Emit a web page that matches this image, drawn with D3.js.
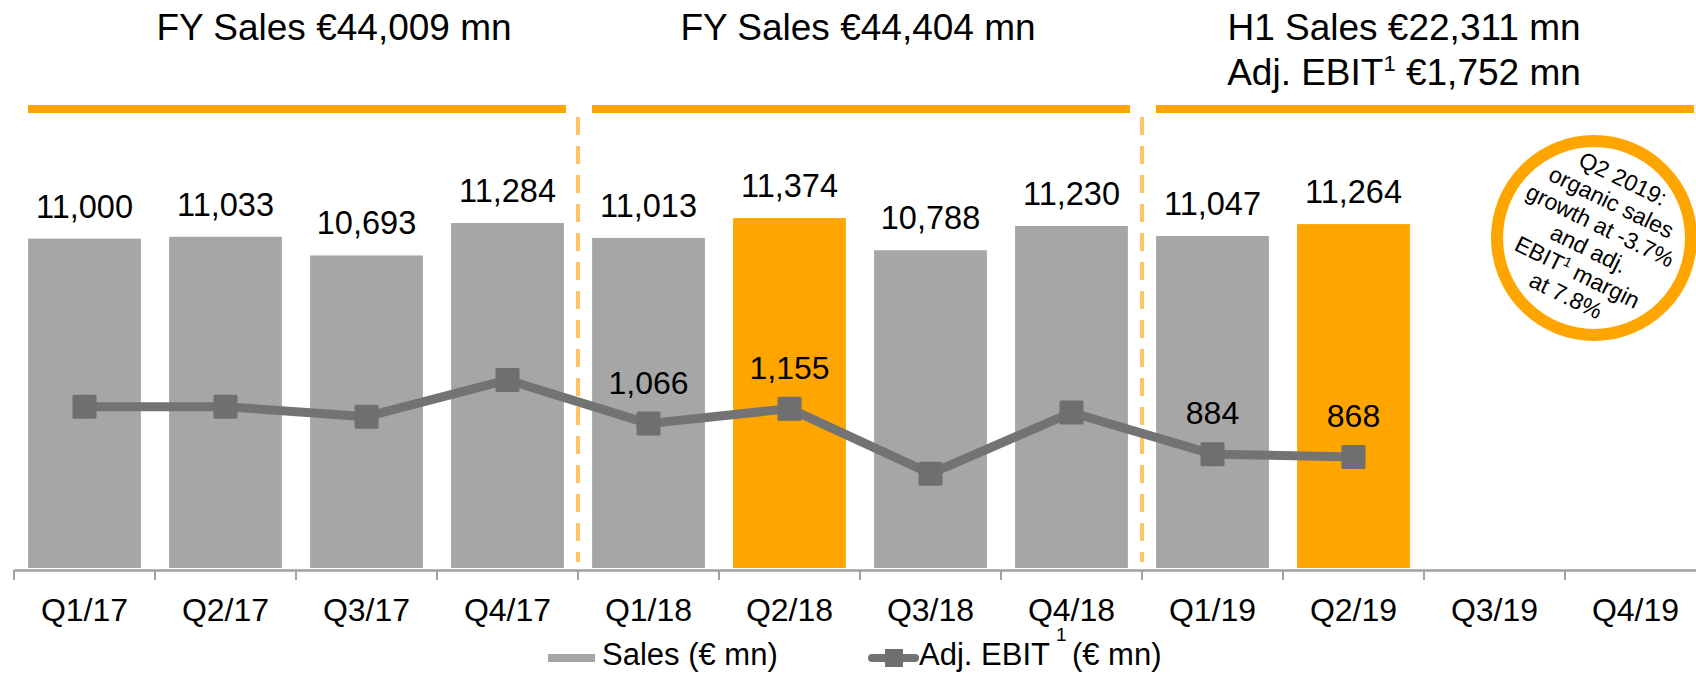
<!DOCTYPE html>
<html>
<head>
<meta charset="utf-8">
<script src="https://cdn.jsdelivr.net/npm/d3@7"></script>
<style>
  body { margin: 0; background: #fff; }
  text { font-family: "Liberation Sans", Arial, sans-serif; fill: #000; }
</style>
</head>
<body>
<div id="wrapper"></div>
<script>
// data
const quarters = ["Q1/17", "Q2/17", "Q3/17", "Q4/17", "Q1/18", "Q2/18", "Q3/18", "Q4/18", "Q1/19", "Q2/19", "Q3/19", "Q4/19"]
const sales = [11000, 11033, 10693, 11284, 11013, 11374, 10788, 11230, 11047, 11264, null, null]
const adjEbit = [1167, 1167, 1107, 1326, 1066, 1155, 768, 1132, 884, 868, null, null]
const ebitLabelled = ["Q1/18", "Q2/18", "Q1/19", "Q2/19"]
const highlighted = ["Q2/18", "Q2/19"]
const periodSpans = [["Q1/17", "Q4/17"], ["Q1/18", "Q4/18"], ["Q1/19", "Q4/19"]]
const periodTitles = [["FY Sales €44,009 mn"], ["FY Sales €44,404 mn"], ["H1 Sales €22,311 mn", "Adj. EBIT¹ €1,752 mn"]]
const calloutLines = ["Q2 2019:", "organic sales", "growth at -3.7%", "and adj.", "EBIT¹ margin", "at 7.8%"]
const legendSales = "Sales (€ mn)"
const legendEbit = ["Adj. EBIT", "1", "(€ mn)"]

const dataset = quarters.map((q, i) => ({ q, sales: sales[i], ebit: adjEbit[i] }))

const dimensions = { width: 1696, height: 679 }
const baseY = 568
const orange = "#FFA500"
const grey = "#A6A6A6"
const lineGrey = "#737373"
const font = '"Liberation Sans", Arial, sans-serif'

const wrapper = d3.select("#wrapper")
  .append("svg")
    .attr("width", dimensions.width)
    .attr("height", dimensions.height)

// scales
const xCells = d3.scaleBand()
  .domain(quarters)
  .range([14, 14 + 141 * quarters.length])
const xBars = d3.scaleBand()
  .domain(quarters)
  .range(xCells.range())
  .paddingInner(0.2)
  .paddingOuter(0.1)
const yScale = d3.scaleLinear()
  .domain([5000, 12000])
  .range([baseY, baseY - 7000 * 0.0549])
const yEbit = d3.scaleLinear()
  .domain([0, 2000])
  .range([602.7, 602.7 - 2000 * 0.168])

// period headers
periodSpans.forEach(([a, b]) => {
  wrapper.append("rect")
      .attr("x", xCells(a) + 14)
      .attr("y", 105)
      .attr("width", xCells(b) + xCells.bandwidth() - 12 - xCells(a) - 14)
      .attr("height", 8)
      .attr("fill", orange)
})
const headerX = [334, 858, 1404]
periodTitles.forEach((lines, i) => {
  lines.forEach((line, j) => {
    const t = wrapper.append("text")
        .attr("x", headerX[i])
        .attr("y", 40 + j * 45)
        .attr("text-anchor", "middle")
        .style("font-size", "37px")
    const parts = line.split("¹")
    t.append("tspan").text(parts[0])
    if (parts.length > 1) {
      t.append("tspan").attr("dy", -14).style("font-size", "22px").text("1")
      t.append("tspan").attr("dy", 14).text(parts[1])
    }
  })
})

// dashed separators
periodSpans.slice(1).forEach(([a]) => {
  wrapper.append("line")
      .attr("x1", xCells(a))
      .attr("x2", xCells(a))
      .attr("y1", 117)
      .attr("y2", 562)
      .attr("stroke", "#FFC468")
      .attr("stroke-width", 4)
      .attr("stroke-dasharray", "18,11")
})

// bars
const barData = dataset.filter(d => d.sales != null)
wrapper.append("g").selectAll("rect")
  .data(barData)
  .join("rect")
    .attr("x", d => xBars(d.q))
    .attr("y", d => yScale(d.sales))
    .attr("width", xBars.bandwidth())
    .attr("height", d => baseY - yScale(d.sales))
    .attr("fill", d => highlighted.includes(d.q) ? orange : grey)

wrapper.append("g").selectAll("text")
  .data(barData)
  .join("text")
    .attr("x", d => xBars(d.q) + xBars.bandwidth() / 2)
    .attr("y", d => yScale(d.sales) - 21)
    .attr("text-anchor", "middle")
    .style("font-size", "32.5px")
    .text(d => d3.format(",")(d.sales))

// axis
const xAxisGenerator = d3.axisBottom(xCells).tickSize(0).tickSizeOuter(0).tickPadding(0)
const xAxis = wrapper.append("g")
    .attr("transform", `translate(0, 570)`)
    .call(xAxisGenerator)
xAxis.select(".domain").attr("stroke", "#A0A0A0").attr("stroke-width", 2.5)
xAxis.selectAll(".tick text")
    .attr("y", 51)
    .attr("dy", 0)
    .attr("fill", "#000")
    .style("font-family", font)
    .style("font-size", "32px")
xAxis.selectAll(".boundary")
  .data(quarters)
  .join("line")
    .attr("class", "boundary")
    .attr("x1", d => xCells(d))
    .attr("x2", d => xCells(d))
    .attr("y1", 0)
    .attr("y2", 10)
    .attr("stroke", "#A0A0A0")
    .attr("stroke-width", 2)

// adj. EBIT line
const ebitData = dataset.filter(d => d.ebit != null)
const lineGenerator = d3.line()
  .x(d => xCells(d.q) + xCells.bandwidth() / 2)
  .y(d => yEbit(d.ebit))
wrapper.append("path")
    .datum(ebitData)
    .attr("d", lineGenerator)
    .attr("fill", "none")
    .attr("stroke", lineGrey)
    .attr("stroke-width", 9)
    .attr("stroke-linejoin", "round")
wrapper.append("g").selectAll("rect")
  .data(ebitData)
  .join("rect")
    .attr("x", d => xCells(d.q) + xCells.bandwidth() / 2 - 12)
    .attr("y", d => yEbit(d.ebit) - 12)
    .attr("width", 24)
    .attr("height", 24)
    .attr("rx", 1.5)
    .attr("fill", "#6F6F6F")
wrapper.append("g").selectAll("text")
  .data(ebitData.filter(d => ebitLabelled.includes(d.q)))
  .join("text")
    .attr("x", d => xCells(d.q) + xCells.bandwidth() / 2)
    .attr("y", d => yEbit(d.ebit) - 30)
    .attr("text-anchor", "middle")
    .style("font-size", "32px")
    .text(d => d3.format(",")(d.ebit))

// callout circle
const callout = wrapper.append("g")
    .attr("transform", "translate(1594, 238)")
callout.append("circle")
    .attr("r", 97)
    .attr("fill", "#fff")
    .attr("stroke", orange)
    .attr("stroke-width", 12)
const calloutText = callout.append("g")
    .attr("transform", "rotate(26)")
calloutLines.forEach((line, i) => {
  const t = calloutText.append("text")
      .attr("x", 0)
      .attr("y", (i - (calloutLines.length - 1) / 2) * 26 + 7)
      .attr("text-anchor", "middle")
      .style("font-size", "23px")
  const parts = line.split("¹")
  t.append("tspan").text(parts[0])
  if (parts.length > 1) {
    t.append("tspan").attr("dy", -8).style("font-size", "14px").text("1")
    t.append("tspan").attr("dy", 8).text(parts[1])
  }
})

// legend
const legend = wrapper.append("g")
legend.append("rect")
    .attr("x", 548)
    .attr("y", 654)
    .attr("width", 47)
    .attr("height", 8)
    .attr("fill", grey)
legend.append("text")
    .attr("x", 602)
    .attr("y", 665)
    .style("font-size", "31px")
    .text(legendSales)
legend.append("line")
    .attr("x1", 872)
    .attr("x2", 915)
    .attr("y1", 658)
    .attr("y2", 658)
    .attr("stroke", lineGrey)
    .attr("stroke-width", 8)
    .attr("stroke-linecap", "round")
legend.append("rect")
    .attr("x", 885)
    .attr("y", 649)
    .attr("width", 18)
    .attr("height", 18)
    .attr("fill", "#6F6F6F")
const ebitText = legend.append("text")
    .attr("x", 919)
    .attr("y", 665)
    .style("font-size", "31px")
    .text(legendEbit[0])
const ebitTextEnd = 919 + ebitText.node().getComputedTextLength()
legend.append("text")
    .attr("x", ebitTextEnd + 6)
    .attr("y", 641)
    .style("font-size", "19px")
    .text(legendEbit[1])
legend.append("text")
    .attr("x", ebitTextEnd + 22)
    .attr("y", 665)
    .style("font-size", "31px")
    .text(legendEbit[2])
</script>
</body>
</html>
